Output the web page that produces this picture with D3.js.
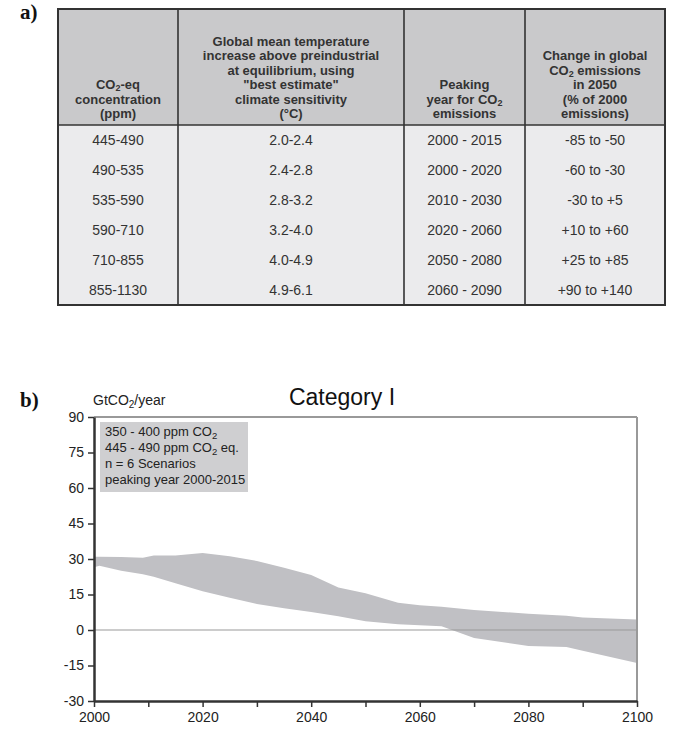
<!DOCTYPE html>
<html><head><meta charset="utf-8">
<script src="https://cdn.jsdelivr.net/npm/d3@7"></script>
<style>body{margin:0;background:#fff}svg{display:block}</style>
</head><body>
<script>
// ---- Panel a): stabilisation categories table ----
const concentration = ["445-490", "490-535", "535-590", "590-710", "710-855", "855-1130"];
const temperature   = ["2.0-2.4", "2.4-2.8", "2.8-3.2", "3.2-4.0", "4.0-4.9", "4.9-6.1"];
const peakingYear   = ["2000 - 2015", "2000 - 2020", "2010 - 2030", "2020 - 2060", "2050 - 2080", "2060 - 2090"];
const change2050    = ["-85 to -50", "-60 to -30", "-30 to +5", "+10 to +60", "+25 to +85", "+90 to +140"];

// Header lines; each line is a list of [text, subscript] pieces
const headerConcentration = [[["CO", 0], ["2", 1], ["-eq", 0]], [["concentration", 0]], [["(ppm)", 0]]];
const headerTemperature = [[["Global mean temperature", 0]], [["increase above preindustrial", 0]],
  [["at equilibrium, using", 0]], [["\"best estimate\"", 0]], [["climate sensitivity", 0]], [["(°C)", 0]]];
const headerPeaking = [[["Peaking", 0]], [["year for CO", 0], ["2", 1]], [["emissions", 0]]];
const headerChange = [[["Change in global", 0]], [["CO", 0], ["2", 1], [" emissions", 0]],
  [["in 2050", 0]], [["(% of 2000", 0]], [["emissions)", 0]]];

// ---- Panel b): Category I emission range (GtCO2/year) ----
const years = [2000, 2001, 2005, 2009, 2011, 2015, 2020, 2025, 2030, 2035, 2040, 2045, 2050, 2056, 2060, 2064, 2070, 2080, 2087, 2090, 2100];
const upper = [31, 31, 30.8, 30.5, 31.5, 31.5, 32.5, 31.2, 29.2, 26.3, 23.2, 18, 15.5, 11.5, 10.5, 9.8, 8.5, 6.9, 6, 5.3, 4.4];
const lower = [26.5, 27.2, 25, 23.6, 22.5, 19.8, 16.4, 13.6, 11, 9.2, 7.6, 5.8, 3.7, 2.4, 2, 1.6, -3.4, -6.8, -7.2, -8.8, -13.9];
const yTicks = [90, 75, 60, 45, 30, 15, 0, -15, -30];
const xTicks = [2000, 2010, 2020, 2030, 2040, 2050, 2060, 2070, 2080, 2090, 2100];
const legendLines = [
  [["350 - 400 ppm CO", 0], ["2", 1]],
  [["445 - 490 ppm CO", 0], ["2", 1], [" eq.", 0]],
  [["n = 6 Scenarios", 0]],
  [["peaking year 2000-2015", 0]]
];

const W = 679, H = 735;
const sans = "'Liberation Sans', Arial, sans-serif";
const serif = "'Liberation Serif', 'Times New Roman', serif";
const ink = "#333";

const svg = d3.select("body").append("svg").attr("width", W).attr("height", H);

// text with lowered subscript pieces
function richText(sel, pieces, subSize, drop) {
  let lowered = false;
  pieces.forEach(([t, sub]) => {
    const ts = sel.append("tspan").text(t);
    if (sub) { ts.attr("font-size", subSize).attr("dy", drop); lowered = true; }
    else if (lowered) { ts.attr("dy", -drop); lowered = false; }
  });
}

// ---------- Table ----------
const tLeft = 58, tRight = 665, tTop = 9, tHeadBottom = 125, tBottom = 305;
const colEdges = [tLeft, 178, 404, 525, tRight];
const columns = [
  {head: headerConcentration, cells: concentration},
  {head: headerTemperature, cells: temperature},
  {head: headerPeaking, cells: peakingYear},
  {head: headerChange, cells: change2050}
];

svg.append("text").attr("x", 20).attr("y", 19).attr("font-family", serif)
  .attr("font-weight", "bold").attr("font-size", 21).attr("fill", "#111").text("a)");

svg.append("rect").attr("x", tLeft).attr("y", tTop).attr("width", tRight - tLeft)
  .attr("height", tHeadBottom - tTop).attr("fill", "#c9c9cb");
svg.append("rect").attr("x", tLeft).attr("y", tHeadBottom).attr("width", tRight - tLeft)
  .attr("height", tBottom - tHeadBottom).attr("fill", "#ebebed");

const rowScale = d3.scaleBand().domain(d3.range(concentration.length)).range([tHeadBottom, tBottom]);
const headLineH = 14.5, headLastY = 118;

columns.forEach((col, i) => {
  const cx = (colEdges[i] + colEdges[i + 1]) / 2;
  const n = col.head.length;
  col.head.forEach((line, j) => {
    const t = svg.append("text").attr("x", cx).attr("y", headLastY - (n - 1 - j) * headLineH)
      .attr("text-anchor", "middle").attr("font-family", sans).attr("font-weight", "bold")
      .attr("font-size", 13).attr("fill", ink);
    richText(t, line, 9, 2);
  });
  svg.selectAll(null).data(col.cells).join("text")
    .attr("x", cx).attr("y", (d, r) => rowScale(r) + rowScale.bandwidth() / 2)
    .attr("dy", "0.35em").attr("text-anchor", "middle").attr("font-family", sans)
    .attr("font-size", 14).attr("fill", ink).text(d => d);
});

// grid lines
colEdges.slice(1, -1).forEach(xp => {
  svg.append("line").attr("x1", xp).attr("x2", xp).attr("y1", tTop).attr("y2", tBottom)
    .attr("stroke", ink).attr("stroke-width", 1.6);
});
svg.append("line").attr("x1", tLeft).attr("x2", tRight).attr("y1", tHeadBottom).attr("y2", tHeadBottom)
  .attr("stroke", ink).attr("stroke-width", 1.6);
svg.append("rect").attr("x", tLeft).attr("y", tTop).attr("width", tRight - tLeft)
  .attr("height", tBottom - tTop).attr("fill", "none").attr("stroke", ink).attr("stroke-width", 2);

// ---------- Chart ----------
const x = d3.scaleLinear().domain([2000, 2100]).range([94, 637]);
const y = d3.scaleLinear().domain([-30, 90]).range([701, 417]);

svg.append("text").attr("x", 20).attr("y", 407).attr("font-family", serif)
  .attr("font-weight", "bold").attr("font-size", 21).attr("fill", "#111").text("b)");

const unit = svg.append("text").attr("x", 93).attr("y", 405).attr("font-family", sans)
  .attr("font-size", 14).attr("fill", "#222");
richText(unit, [["GtCO", 0], ["2", 1], ["/year", 0]], 10, 3);

svg.append("text").attr("x", 342).attr("y", 405).attr("text-anchor", "middle")
  .attr("font-family", sans).attr("font-size", 23).attr("fill", "#111").text("Category I");

// emission band
const band = years.map((yr, i) => ({yr, hi: upper[i], lo: lower[i]}));
svg.append("path").datum(band)
  .attr("d", d3.area().x(d => x(d.yr)).y0(d => y(d.lo)).y1(d => y(d.hi)))
  .attr("fill", "#c0c0c4");

// frame: top and right in grey, zero line
svg.append("line").attr("x1", x(2000)).attr("x2", x(2100)).attr("y1", y(90)).attr("y2", y(90))
  .attr("stroke", "#999").attr("stroke-width", 2);
svg.append("line").attr("x1", x(2100)).attr("x2", x(2100)).attr("y1", y(90)).attr("y2", y(-30))
  .attr("stroke", "#999").attr("stroke-width", 2);
svg.append("line").attr("x1", x(2000)).attr("x2", x(2100)).attr("y1", y(0)).attr("y2", y(0))
  .attr("stroke", "#999").attr("stroke-width", 1);

// legend box
const lg = svg.append("g");
lg.append("rect").attr("x", 100).attr("y", 422).attr("width", 148).attr("height", 70).attr("fill", "#cfcfd1");
legendLines.forEach((line, i) => {
  const t = lg.append("text").attr("x", 105).attr("y", 436 + i * 16).attr("font-family", sans)
    .attr("font-size", 13).attr("fill", "#222");
  richText(t, line, 9.5, 3);
});

// axes
const yAxis = svg.append("g").attr("transform", `translate(${x(2000)},0)`)
  .call(d3.axisLeft(y).tickValues(yTicks).tickSize(6).tickSizeOuter(0).tickPadding(4)
    .tickFormat(d => String(d)));
const xAxis = svg.append("g").attr("transform", `translate(0,${y(-30)})`)
  .call(d3.axisBottom(x).tickValues(xTicks).tickSize(6).tickSizeOuter(0).tickPadding(5)
    .tickFormat(d => d % 20 === 0 ? String(d) : ""));
[yAxis, xAxis].forEach(g => {
  g.select(".domain").attr("stroke", ink).attr("stroke-width", 2.5);
  g.selectAll(".tick line").attr("stroke", ink).attr("stroke-width", 1.5);
  g.selectAll(".tick text").attr("font-family", sans).attr("font-size", 14).attr("fill", "#222");
});
</script>
</body></html>
